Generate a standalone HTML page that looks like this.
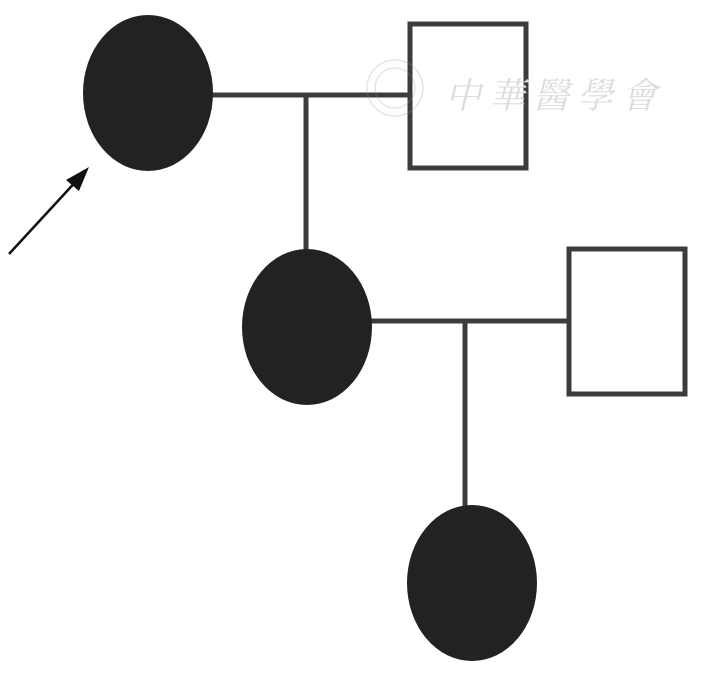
<!DOCTYPE html>
<html><head><meta charset="utf-8"><style>html,body{margin:0;padding:0;background:#fff;}</style></head>
<body>
<svg width="708" height="681" viewBox="0 0 708 681" xmlns="http://www.w3.org/2000/svg">
<g stroke="#3c3c3c" stroke-width="5" fill="none">
<line x1="210" y1="95" x2="410" y2="95"/>
<line x1="306" y1="95" x2="306" y2="252"/>
<line x1="370" y1="321" x2="569" y2="321"/>
<line x1="465" y1="321" x2="465" y2="508"/>
<rect x="410" y="24" width="116" height="144" fill="#fff"/>
<rect x="569" y="249" width="116" height="145" fill="#fff"/>
</g>
<g fill="#222">
<ellipse cx="148" cy="93" rx="65" ry="78"/>
<ellipse cx="307" cy="327" rx="65" ry="78"/>
<ellipse cx="472" cy="583" rx="65" ry="78"/>
</g>
<line x1="9" y1="254" x2="80" y2="177" stroke="#111" stroke-width="2.5"/>
<polygon points="89,167 66,180 79,191" fill="#111"/>
<g opacity="0.25" fill="none" stroke="#999" stroke-width="1.5">
<circle cx="395" cy="88" r="28"/>
<circle cx="395" cy="88" r="20"/>
</g>
<text x="445" y="108" font-family="'Liberation Serif','Noto Serif CJK SC',serif" font-size="36" font-style="italic" fill="#ddd" letter-spacing="8">中華醫學會</text>
</svg>
</body></html>
